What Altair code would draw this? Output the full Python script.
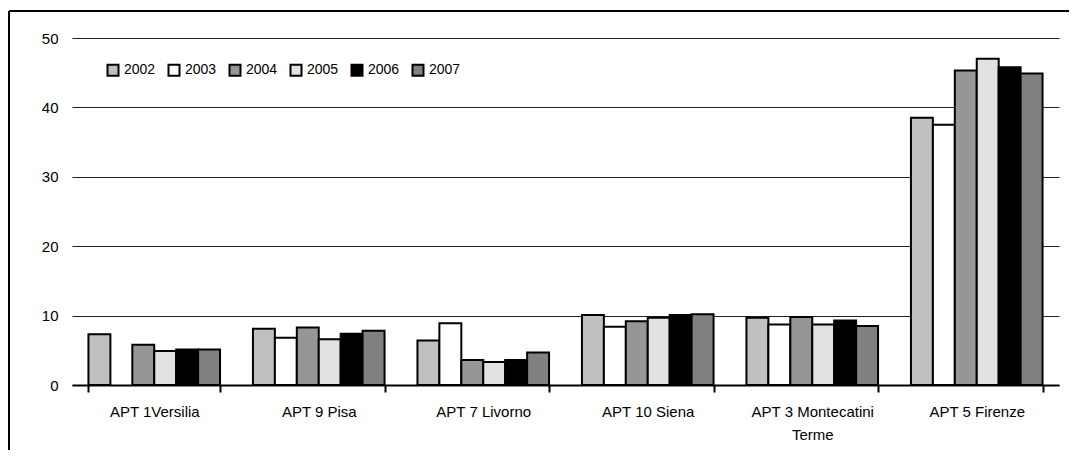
import altair as alt
import pandas as pd

categories = ["APT 1Versilia", "APT 9 Pisa", "APT 7 Livorno", "APT 10 Siena",
              "APT 3 Montecatini Terme", "APT 5 Firenze"]
years = ["2002", "2003", "2004", "2005", "2006", "2007"]
v2002 = [7.3, 8.1, 6.4, 10.1, 9.7, 38.5]
v2003 = [None, 6.8, 8.9, 8.4, 8.7, 37.5]
v2004 = [5.8, 8.3, 3.6, 9.2, 9.8, 45.3]
v2005 = [4.9, 6.6, 3.3, 9.7, 8.7, 47.0]
v2006 = [5.1, 7.4, 3.6, 10.1, 9.3, 45.8]
v2007 = [5.1, 7.8, 4.7, 10.2, 8.5, 44.9]
colors = ["#c0c0c0", "#ffffff", "#969696", "#e2e2e2", "#000000", "#808080"]
y_ticks = [0, 10, 20, 30, 40, 50]

series = [v2002, v2003, v2004, v2005, v2006, v2007]
rows = []
for yr, vals in zip(years, series):
    for cat, v in zip(categories, vals):
        rows.append({"area": cat, "year": yr, "value": v})
df = pd.DataFrame(rows)

FONT = "Liberation Sans"

bars = alt.Chart(df).mark_bar(stroke="black", strokeWidth=2).encode(
    x=alt.X("area:N", sort=categories,
            scale=alt.Scale(paddingInner=0.2, paddingOuter=0.1),
            axis=alt.Axis(title=None, labelAngle=0, domainColor="black", domainWidth=2,
                          tickColor="black", tickWidth=2, tickSize=7, tickBand="extent",
                          labelPadding=12, labelFontSize=15, labelColor="black",
                          labelFont=FONT, labelLineHeight=23,
                          labelExpr="datum.label == 'APT 3 Montecatini Terme' ? ['APT 3 Montecatini', 'Terme'] : datum.label")),
    xOffset=alt.XOffset("year:N", sort=years, scale=alt.Scale(paddingInner=0, paddingOuter=0)),
    y=alt.Y("value:Q", scale=alt.Scale(domain=[0, 50], nice=False),
            axis=alt.Axis(title=None, values=y_ticks, grid=True, gridColor="#222222", gridWidth=1,
                          domain=False, ticks=False, labelPadding=14, labelFontSize=15,
                          labelColor="black", labelFont=FONT)),
    color=alt.Color("year:N", sort=years,
                    scale=alt.Scale(domain=years, range=colors),
                    legend=alt.Legend(title=None, orient="none", legendX=34, legendY=25,
                                      direction="horizontal", symbolType="square",
                                      symbolSize=121, symbolStrokeColor="black",
                                      symbolStrokeWidth=2, labelFontSize=14, labelFont=FONT,
                                      labelColor="black", labelOffset=4, columnPadding=8)),
)

top_line = alt.Chart(df).mark_rule(color="black", strokeWidth=2).encode(
    x=alt.value(-63), x2=alt.value(1000), y=alt.value(-27))
left_line = alt.Chart(df).mark_rule(color="black", strokeWidth=2).encode(
    x=alt.value(-63), y=alt.value(-27), y2=alt.value(420))

chart = alt.layer(bars, top_line, left_line).properties(
    width=987, height=347,
    autosize=alt.AutoSizeParams(type="none"),
    padding={"left": 64, "top": 30, "right": 10, "bottom": 65},
).configure_view(stroke=None)

chart.save("out.html", embed_options={"renderer": "svg", "actions": False})
